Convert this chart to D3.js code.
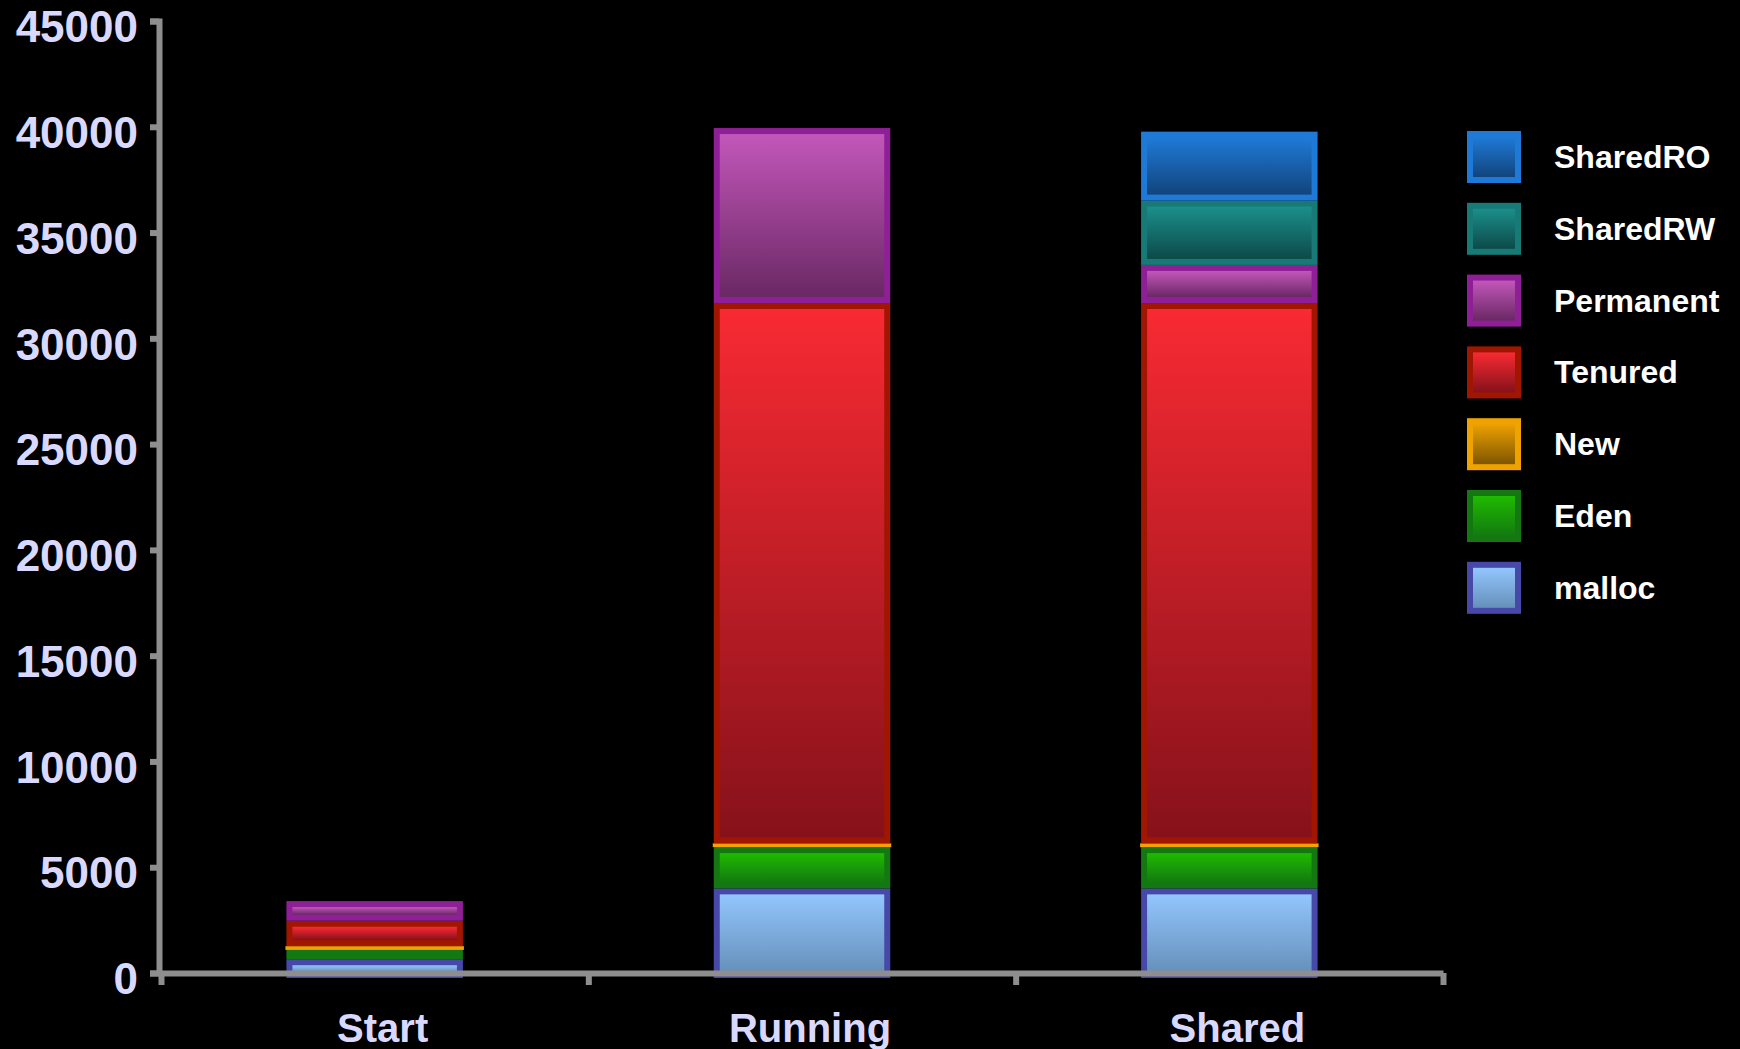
<!DOCTYPE html>
<html>
<head>
<meta charset="utf-8">
<script src="https://cdn.jsdelivr.net/npm/d3@7"></script>
<style>
  html, body { margin: 0; padding: 0; background: #000; }
  svg { display: block; }
  text { font-family: "Liberation Sans", Arial, Helvetica, sans-serif; font-weight: bold; }
</style>
</head>
<body>
<svg id="chart" width="1740" height="1049"></svg>
<script>
// values
const categories = ["Start", "Running", "Shared"];
const seriesNames = ["malloc", "Eden", "New", "Tenured", "Permanent", "SharedRW", "SharedRO"];
const mallocValues = [650, 4000, 4000];
const edenValues = [440, 1950, 1950];
const newValues = [180, 180, 180];
const tenuredValues = [1200, 25540, 25540];
const permanentValues = [930, 8270, 1800];
const sharedRWValues = [0, 0, 3040];
const sharedROValues = [0, 0, 3260];
const yTicks = [0, 5000, 10000, 15000, 20000, 25000, 30000, 35000, 40000, 45000];

// colours: border, gradient top, gradient bottom
const styles = {
  malloc:    { border: "#4649a8", top: "#92c6fd", bottom: "#6690bb" },
  Eden:      { border: "#137812", top: "#20ba00", bottom: "#127a10" },
  New:       { border: "#f0a300", top: "#eda000", bottom: "#7e5600" },
  Tenured:   { border: "#a01600", top: "#f82a33", bottom: "#86111a" },
  Permanent: { border: "#8f1f97", top: "#c257ba", bottom: "#6a2864" },
  SharedRW:  { border: "#177a77", top: "#1b8f8b", bottom: "#0c4a49" },
  SharedRO:  { border: "#1f7ad7", top: "#1f7ad7", bottom: "#11447c" }
};

const valuesBySeries = {
  malloc: mallocValues, Eden: edenValues, New: newValues, Tenured: tenuredValues,
  Permanent: permanentValues, SharedRW: sharedRWValues, SharedRO: sharedROValues
};

const table = categories.map((c, i) => {
  const row = { category: c };
  seriesNames.forEach(s => row[s] = valuesBySeries[s][i]);
  return row;
});

const svg = d3.select("#chart");
svg.append("rect").attr("width", 1740).attr("height", 1049).attr("fill", "#000");

const defs = svg.append("defs");
seriesNames.forEach((s, i) => {
  const g = defs.append("linearGradient")
    .attr("id", "grad" + i)
    .attr("x1", 0).attr("y1", 0).attr("x2", 0).attr("y2", 1);
  g.append("stop").attr("offset", "0%").attr("stop-color", styles[s].top);
  g.append("stop").attr("offset", "100%").attr("stop-color", styles[s].bottom);
});

const x0 = 161, x1 = 1443;
const y = d3.scaleLinear().domain([0, 45000]).range([973, 21]);
const x = d3.scaleBand().domain(categories).range([x0, x1]).padding(0);
const barW = x.bandwidth() * 0.413;
const inset = 6;
const below = 5; // bottom segment runs a little under the axis line

const stack = d3.stack().keys(seriesNames);
const stacked = stack(table);

const bars = svg.append("g");
stacked.forEach((layer, si) => {
  const name = seriesNames[si];
  const st = styles[name];
  layer.forEach((d, ci) => {
    if (d[1] - d[0] <= 0) return;
    const cx = x(categories[ci]) + x.bandwidth() / 2;
    const bx = cx - barW / 2;
    const by = y(d[1]);
    const bh = y(d[0]) - y(d[1]) + (d[0] === 0 ? below : 0);
    const extra = name === "New" ? 1 : 0;
    bars.append("rect")
      .attr("x", bx - extra).attr("y", by)
      .attr("width", barW + 2 * extra).attr("height", bh)
      .attr("fill", st.border);
    if (bh - 2 * inset > 0) {
      bars.append("rect")
        .attr("x", bx + inset).attr("y", by + inset)
        .attr("width", barW - 2 * inset).attr("height", bh - 2 * inset)
        .attr("fill", "url(#grad" + si + ")");
    }
  });
});

// axes
const axisColor = "#8e8e8e";
const yAxis = svg.append("g")
  .attr("transform", "translate(159,0)")
  .call(d3.axisLeft(y).tickValues(yTicks).tickSize(9).tickSizeOuter(9).tickPadding(12).tickFormat(d3.format("d")));
yAxis.selectAll("path, line").attr("stroke", axisColor).attr("stroke-width", 6);
yAxis.selectAll("text")
  .attr("fill", "#d9d9ff")
  .attr("font-size", 44)
  .attr("dy", "0.47em");

const xTickScale = d3.scaleLinear().domain([0, categories.length]).range([x0, x1]);
const xAxis = svg.append("g")
  .attr("transform", "translate(0,973)")
  .call(d3.axisBottom(xTickScale).ticks(categories.length).tickSize(12).tickSizeOuter(0).tickFormat(""));
xAxis.selectAll("path, line").attr("stroke", axisColor).attr("stroke-width", 6);

svg.append("g").selectAll("text")
  .data(categories)
  .join("text")
  .attr("x", d => x(d) + x.bandwidth() / 2 + 8)
  .attr("y", 1042)
  .attr("text-anchor", "middle")
  .attr("font-size", 40)
  .attr("fill", "#d9d9ff")
  .text(d => d);

// legend, top entry is the last series
const legend = svg.append("g").attr("transform", "translate(1467,131)");
const legendItems = seriesNames.slice().reverse();
legendItems.forEach((s, i) => {
  const si = seriesNames.indexOf(s);
  const g = legend.append("g").attr("transform", "translate(0," + (i * 71.8) + ")");
  g.append("rect").attr("width", 54).attr("height", 52).attr("fill", styles[s].border);
  g.append("rect").attr("x", 6).attr("y", 6).attr("width", 42).attr("height", 40)
    .attr("fill", "url(#grad" + si + ")");
  g.append("text")
    .attr("x", 87).attr("y", 37)
    .attr("font-size", 32)
    .attr("fill", "#ffffff")
    .text(s);
});
</script>
</body>
</html>
